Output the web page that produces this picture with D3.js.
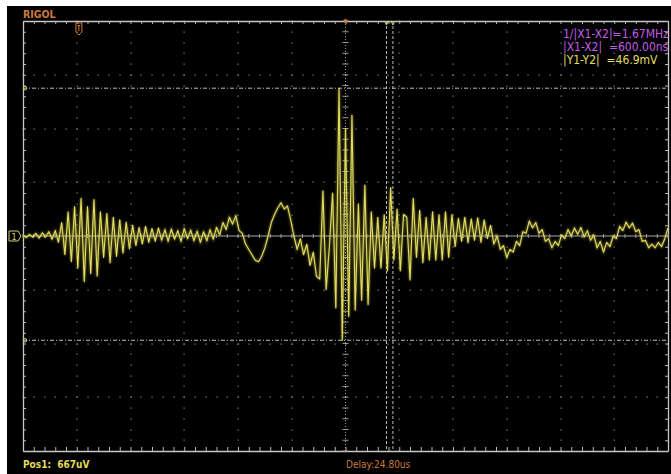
<!DOCTYPE html>
<html>
<head>
<meta charset="utf-8">
<script src="https://cdn.jsdelivr.net/npm/d3@7"></script>
<style>
  html, body { margin: 0; padding: 0; background: #fff; }
  svg { display: block; }
  .lbl { font-family: "Liberation Sans Narrow", "DejaVu Sans Condensed", "Liberation Sans", sans-serif; }
</style>
</head>
<body>
<div id="scope"></div>
<script>
// time base: 5 us/div, 12 div; volts: 10 mV/div, 8 div
const timeDomain = [-30, 30];       // us, relative to screen centre
const voltDomain = [-40, 40];       // mV
const sampleStep = 0.3;             // us between samples

// CH1 trace, mV
const ch1 = [
  0.2, -0.3, 0.3, -0.2, 0.5, -0.4, 0.6, -0.2, 0.8, -0.6, 1.0, -1.2,
  2.5, -3.5, 4.5, -4.8, 5.5, -6.0, 7.0, -8.5, 5.5, -7.0, 6.8, -7.5, 4.5, -4.0, 4.2, -5.0, 3.5, -3.8, 3.0, -3.2, 2.6, -2.4,
  2.0, -1.8, 1.6, -1.5, 1.8, -1.2, 1.4, -1.0, 1.5, -0.8, 1.2, -1.0, 1.3, -0.6, 1.0, -1.0, 1.4, -0.5, 1.1, -0.9, 0.9, -1.2, 0.8, -0.9, 1.2, -0.6, 1.6, 0.2,
  2.5, 1.2, 3.5, 2.2, 3.8, 1.0, 0.5, -1.5, -2.5, -3.5, -4.5, -4.8, -3.8, -2.2, 0.0,
  2.5, 4.0, 5.2, 6.2, 5.0, 5.6, 3.0, 0.0, -2.5, -0.5, -3.5, -1.5, -5.5, -3.0, -7.5,
  -8.0, 8.4, -10.0, -2.0, 8.0, -13.4, 27.5, -19.4, 20.0, -15.0, 22.5, -13.8, 6.0, -12.0, 9.5, -12.8, 4.5, -6.0, 3.5,
  -6.0, 4.0, -6.5, 9.0, -4.5, 5.0, -6.5, 4.0, 3.5, -8.2, 7.0, -4.0, 4.8, -5.0, 3.5, -4.5,
  4.5, -4.5, 4.0, -4.5, 4.5, -4.0, 4.0, -2.0, 3.3, -1.0, 3.5, -1.3, 3.2, -0.8, 3.4, -1.2, 3.0, -0.5, 2.0, -1.5, 0.0, -2.5,
  -1.8, -4.0, -2.5, -3.0, -1.0, -1.8, 0.8, 0.5, 2.8, 1.5, 2.5, 0.5, 1.2, -1.0, -0.5, -2.2, -1.0, -1.8, 0.2, -0.5,
  1.2, 0.0, 1.5, 0.3, 1.6, -0.2, 1.0, -0.8, 0.2, -2.2, -1.0, -3.0, -1.2, -2.0, 0.0, -0.5, 1.8, 1.0, 2.6, 1.5,
  2.4, 0.8, 1.2, -1.0, -0.8, -2.2, -1.5, -2.2, -1.2, -2.0, -0.5, 1.5
];

// cursors
const xCursors = [3.81, 4.41];      // us
const yCursors = [27.5, -19.4];     // mV
const triggerPos = -24.8;           // us, orange T marker

const readout = [
  { text: '1/|X1-X2|=1.67MHz', color: '#c15ee0' },
  { text: '|X1-X2|  =600.00ns', color: '#c15ee0' },
  { text: '|Y1-Y2|  =46.9mV', color: '#e4de62' }
];
const posText = 'Pos1:  667uV';
const delayText = 'Delay:24.80us';

const config = {
  width: 671, height: 474,
  screen: { x: 7, y: 6 },
  grid: { left: 23, right: 668, top: 21, bottom: 451 }
};

const svg = d3.select('#scope').append('svg')
  .attr('width', config.width)
  .attr('height', config.height);

svg.append('rect')
  .attr('x', config.screen.x).attr('y', config.screen.y)
  .attr('width', config.width - config.screen.x)
  .attr('height', config.height - config.screen.y)
  .attr('fill', '#000');

const g = config.grid;
const x = d3.scaleLinear().domain(timeDomain).range([g.left, g.right]);
const y = d3.scaleLinear().domain(voltDomain).range([g.bottom, g.top]);

const majorX = d3.range(timeDomain[0], timeDomain[1] + 0.01, 5);
const majorY = d3.range(voltDomain[0], voltDomain[1] + 0.01, 10);
const minorX = d3.range(timeDomain[0], timeDomain[1] + 0.01, 1);
const minorY = d3.range(voltDomain[0], voltDomain[1] + 0.01, 2);

// dotted graticule
const dots = svg.append('g').attr('fill', '#8a8a8a');
majorX.filter(t => t !== 0 && Math.abs(t) !== 30).forEach(t => {
  dots.selectAll(null).data(minorY).join('rect')
    .attr('x', Math.round(x(t)) - 0.5).attr('y', d => Math.round(y(d)) - 0.5)
    .attr('width', 1.2).attr('height', 1.2);
});
majorY.filter(v => v !== 0 && Math.abs(v) !== 40).forEach(v => {
  dots.selectAll(null).data(minorX).join('rect')
    .attr('x', d => Math.round(x(d)) - 0.5).attr('y', Math.round(y(v)) - 0.5)
    .attr('width', 1.2).attr('height', 1.2);
});

// border with inward ticks
const axisStyle = sel => {
  sel.select('.domain').attr('stroke', '#c8c8c8').attr('stroke-width', 1.3);
  sel.selectAll('.tick line').attr('stroke', '#b8b8b8');
  sel.selectAll('.tick text').remove();
};
svg.append('g').attr('transform', `translate(0,${g.top})`)
  .call(d3.axisBottom(x).tickValues(minorX).tickSize(3).tickSizeOuter(0).tickFormat('')).call(axisStyle);
svg.append('g').attr('transform', `translate(0,${g.bottom})`)
  .call(d3.axisTop(x).tickValues(minorX).tickSize(4).tickSizeOuter(0).tickFormat('')).call(axisStyle);
svg.append('g').attr('transform', `translate(${g.left},0)`)
  .call(d3.axisRight(y).tickValues(minorY).tickSize(3).tickSizeOuter(0).tickFormat('')).call(axisStyle);
svg.append('g').attr('transform', `translate(${g.right},0)`)
  .call(d3.axisLeft(y).tickValues(minorY).tickSize(3).tickSizeOuter(0).tickFormat('')).call(axisStyle);

// centre cross
const cross = svg.append('g').attr('stroke', '#9a9a9a');
cross.append('line')
  .attr('x1', g.left).attr('x2', g.right).attr('y1', y(0)).attr('y2', y(0))
  .attr('stroke', '#a8a8a8').attr('stroke-width', 1);
cross.append('line')
  .attr('x1', x(0)).attr('x2', x(0)).attr('y1', g.top).attr('y2', g.bottom)
  .attr('stroke-dasharray', '1,2');
cross.selectAll('.hx').data(minorX).join('line')
  .attr('x1', d => x(d)).attr('x2', d => x(d))
  .attr('y1', y(0) - 2).attr('y2', y(0) + 2);
cross.selectAll('.vy').data(minorY).join('line')
  .attr('x1', x(0) - 3).attr('x2', x(0) + 3)
  .attr('y1', d => y(d)).attr('y2', d => y(d));

// cursors
const cur = svg.append('g').attr('stroke', '#bdbdbd').attr('fill', 'none');
cur.selectAll('.yc').data(yCursors).join('line')
  .attr('x1', g.left).attr('x2', g.right)
  .attr('y1', d => y(d)).attr('y2', d => y(d))
  .attr('stroke-dasharray', '4,2,1,2');
cur.selectAll('.yo').data(yCursors).join('circle')
  .attr('cx', g.left + 2).attr('cy', d => y(d)).attr('r', 1.8)
  .attr('stroke', '#d8cf70');
cur.selectAll('.xc').data(xCursors).join('line')
  .attr('x1', d => x(d)).attr('x2', d => x(d))
  .attr('y1', g.top).attr('y2', g.bottom)
  .attr('stroke-dasharray', '3,2');
cur.selectAll('.xm').data(xCursors).join('path')
  .attr('d', d => `M${x(d) - 2},${g.top}L${x(d)},${g.top + 4}L${x(d) + 2},${g.top}`)
  .attr('stroke', '#d8cf70');

// trace
const line = d3.line()
  .x((d, i) => x(timeDomain[0] + i * sampleStep))
  .y(d => y(d));

svg.append('clipPath').attr('id', 'screen-clip')
  .append('rect').attr('x', g.left).attr('y', g.top)
  .attr('width', g.right - g.left).attr('height', g.bottom - g.top);

const defs = svg.append('defs');
defs.append('filter').attr('id', 'glow')
  .append('feGaussianBlur').attr('stdDeviation', 0.9);

svg.append('path')
  .datum(ch1)
  .attr('clip-path', 'url(#screen-clip)')
  .attr('d', line)
  .attr('fill', 'none')
  .attr('stroke', '#bdb848')
  .attr('stroke-width', 2)
  .attr('opacity', 0.6)
  .attr('filter', 'url(#glow)');

svg.append('path')
  .datum(ch1)
  .attr('clip-path', 'url(#screen-clip)')
  .attr('d', line)
  .attr('fill', 'none')
  .attr('stroke', '#e2dc5c')
  .attr('stroke-width', 1.1)
  .attr('stroke-linejoin', 'round');

// channel 1 ground marker
const ch = svg.append('g').attr('transform', `translate(9,${y(0) - 5})`);
ch.append('path').attr('d', 'M0,0H9L12,5L9,10H0Z')
  .attr('fill', '#000').attr('stroke', '#d8d070').attr('stroke-width', 1);
ch.append('text').attr('class', 'lbl').attr('x', 5).attr('y', 8.5)
  .attr('text-anchor', 'middle').attr('font-size', 9).attr('fill', '#d8d070').text('1');

// trigger position marker
const tm = svg.append('g').attr('transform', `translate(${x(triggerPos)},${g.top + 2})`);
tm.append('path').attr('d', 'M-3,0H3V9L0,12L-3,9Z')
  .attr('fill', 'none').attr('stroke', '#d07a38').attr('stroke-width', 1);
tm.append('path').attr('d', 'M-1.5,2.5H1.5M0,2.5V8')
  .attr('stroke', '#d07a38').attr('stroke-width', 1);
svg.append('circle').attr('cx', x(0)).attr('cy', g.top).attr('r', 2).attr('fill', '#d07a38');

// labels
svg.append('text').attr('class', 'lbl')
  .attr('x', 23).attr('y', 18)
  .attr('font-size', 10.5).attr('font-weight', 'bold')
  .attr('fill', '#cf7a3c').text('RIGOL');

svg.selectAll('.readout').data(readout).join('text')
  .attr('class', 'lbl')
  .attr('x', 563).attr('y', (d, i) => 38 + i * 13)
  .attr('font-size', 12)
  .attr('fill', d => d.color)
  .style('white-space', 'pre')
  .text(d => d.text);

svg.append('text').attr('class', 'lbl')
  .attr('x', 23).attr('y', 468)
  .attr('font-size', 10).attr('font-weight', 'bold')
  .attr('fill', '#e2dc5c')
  .style('white-space', 'pre')
  .text(posText);

svg.append('text').attr('class', 'lbl')
  .attr('x', 346).attr('y', 468)
  .attr('font-size', 10)
  .attr('fill', '#cf7a3c')
  .text(delayText);
</script>
</body>
</html>
